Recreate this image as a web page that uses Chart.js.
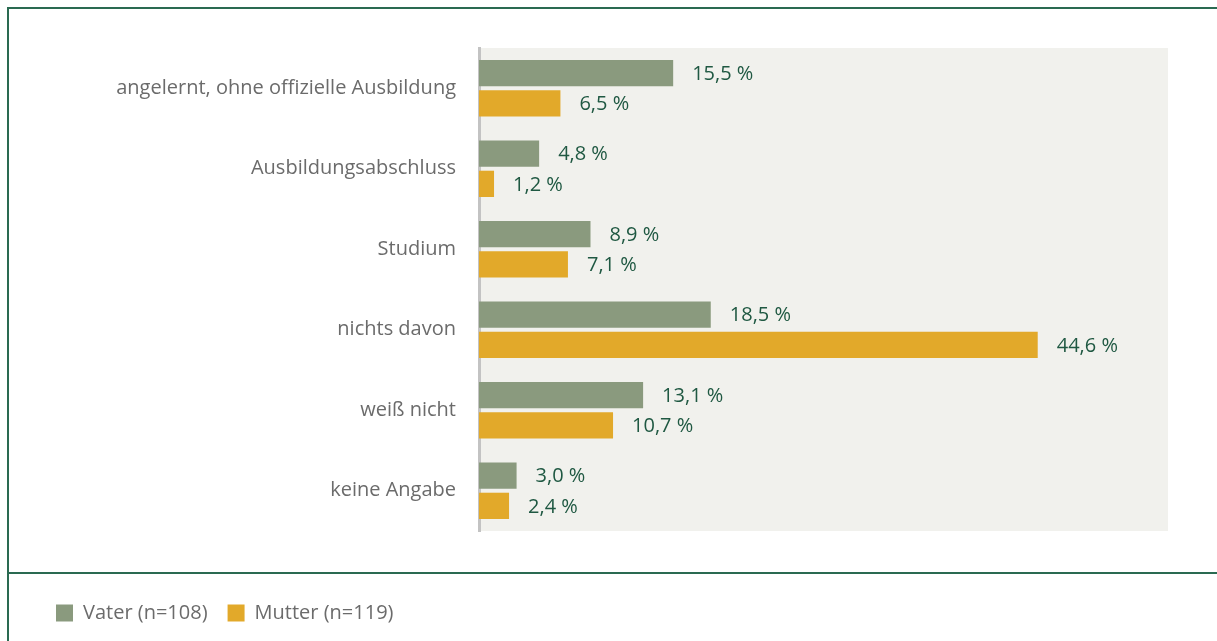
<!DOCTYPE html>
<html>
<head>
<meta charset="utf-8">
<script src="https://cdn.jsdelivr.net/npm/chart.js@4"></script>
<style>
  body { margin: 0; background: #fff; }
  #wrap { position: relative; width: 1217px; height: 641px; overflow: hidden; }
  #frame { position: absolute; left: 7px; top: 7px; width: 1230px; height: 660px;
           border-left: 2px solid #2a6a51; border-top: 2px solid #2a6a51; }
  #sep { position: absolute; left: 7px; top: 572px; width: 1230px; height: 2px; background: #2a6a51; }
  canvas { position: absolute; left: 0; top: 0; }
</style>
</head>
<body>
<div id="wrap">
  <div id="frame"></div>
  <div id="sep"></div>
  <canvas id="barChart" width="1217" height="641"></canvas>
</div>
<script>
const categories = [
  "angelernt, ohne offizielle Ausbildung",
  "Ausbildungsabschluss",
  "Studium",
  "nichts davon",
  "weiß nicht",
  "keine Angabe"
];
const vater = [15.5, 4.8, 8.9, 18.5, 13.1, 3.0];
const mutter = [6.5, 1.2, 7.1, 44.6, 10.7, 2.4];
const seriesNames = ["Vater (n=108)", "Mutter (n=119)"];

const labelFont = "'Open Sans', sans-serif";

// grey panel behind the bars
const plotBackground = {
  id: "plotBackground",
  beforeDraw(chart) {
    const { ctx, chartArea } = chart;
    ctx.save();
    ctx.fillStyle = "#f1f1ed";
    ctx.fillRect(chartArea.left, chartArea.top, chartArea.right - chartArea.left, chartArea.bottom - chartArea.top);
    ctx.restore();
  }
};

// "15,5 %" labels to the right of the bars
const valueLabels = {
  id: "valueLabels",
  afterDatasetsDraw(chart) {
    const ctx = chart.ctx;
    ctx.save();
    ctx.font = "20px " + labelFont;
    ctx.fillStyle = "#1f5842";
    ctx.textBaseline = "middle";
    ctx.textAlign = "left";
    chart.data.datasets.forEach((ds, i) => {
      chart.getDatasetMeta(i).data.forEach((bar, j) => {
        const txt = ds.data[j].toFixed(1).replace(".", ",") + " %";
        ctx.fillText(txt, bar.x + 19, bar.y + 1);
      });
    });
    ctx.restore();
  }
};

const ctx = document.getElementById("barChart").getContext("2d");
const myChart = new Chart(ctx, {
  type: "bar",
  data: {
    labels: categories,
    datasets: [
      {
        label: seriesNames[0],
        data: vater,
        backgroundColor: "#8a9a7e",
        barPercentage: 0.87,
        categoryPercentage: 0.75
      },
      {
        label: seriesNames[1],
        data: mutter,
        backgroundColor: "#e2a92a",
        barPercentage: 0.87,
        categoryPercentage: 0.75
      }
    ]
  },
  options: {
    indexAxis: "y",
    responsive: false,
    animation: false,
    layout: { padding: { left: 36, right: 49, top: 48, bottom: 8 } },
    plugins: {
      legend: {
        position: "bottom",
        align: "start",
        labels: {
          boxWidth: 17,
          boxHeight: 17,
          padding: 20,
          color: "#6b6b6b",
          font: { family: labelFont, size: 20 }
        }
      },
      tooltip: { enabled: false }
    },
    scales: {
      x: {
        min: 0,
        max: 55,
        grid: { display: false },
        border: { display: false },
        ticks: { display: false },
        afterFit(scale) { scale.height = 52; }
      },
      y: {
        grid: { display: false },
        border: { display: true, color: "#c3c3c3", width: 3 },
        ticks: {
          color: "#6b6b6b",
          padding: 15,
          font: { family: labelFont, size: 20 }
        },
        afterFit(scale) { scale.width = 443; }
      }
    }
  },
  plugins: [plotBackground, valueLabels]
});
</script>
</body>
</html>
